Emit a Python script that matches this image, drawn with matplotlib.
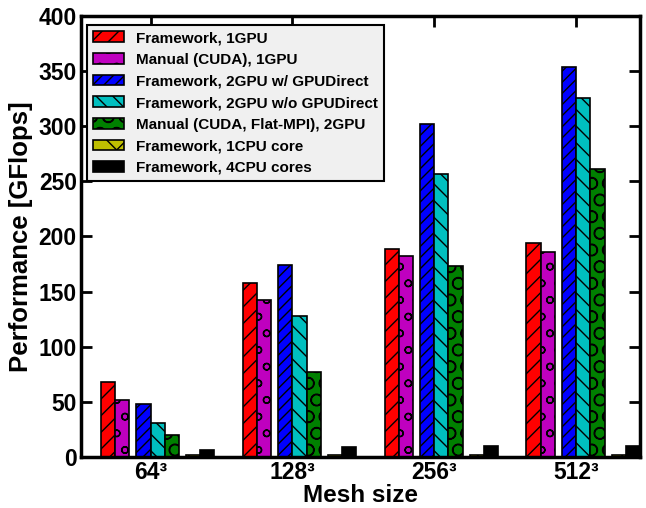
import numpy as np
import matplotlib
matplotlib.use('Agg')
import matplotlib.pyplot as plt

plt.rcParams['font.family'] = ['Liberation Sans', 'DejaVu Sans']
plt.rcParams['font.weight'] = 'bold'
plt.rcParams['hatch.linewidth'] = 1.0

sizes = ['64³', '128³', '256³', '512³']
labels = ['Framework, 1GPU',
          'Manual (CUDA), 1GPU',
          'Framework, 2GPU w/ GPUDirect',
          'Framework, 2GPU w/o GPUDirect',
          'Manual (CUDA, Flat-MPI), 2GPU',
          'Framework, 1CPU core',
          'Framework, 4CPU cores']

fw_1gpu = [68, 158, 189, 194]
man_1gpu = [52, 142, 182, 186]
fw_2gpu_direct = [48, 174, 302, 354]
fw_2gpu_nodirect = [31, 128, 257, 326]
man_2gpu_mpi = [20, 77, 173, 261]
fw_1cpu = [2, 2, 2, 2]
fw_4cpu = [6, 9, 10, 10]

series = [fw_1gpu, man_1gpu, fw_2gpu_direct, fw_2gpu_nodirect,
          man_2gpu_mpi, fw_1cpu, fw_4cpu]
colors = ['#ff0000', '#bf00bf', '#0000ff', '#00bfbf', '#008000', '#bfbf00', '#000000']
hatches = ['//', 'o', '///', '\\\\', 'O', 'x', '']
# left edge of each bar relative to the group tick
offsets = [-0.35, -0.25, -0.1, 0.0, 0.1, 0.25, 0.35]
width = 0.1

fig = plt.figure(figsize=(6.46, 5.08), dpi=100)
ax = fig.add_axes([0.1254, 0.1004, 0.8653, 0.8681])

x = np.arange(len(sizes))
for vals, c, h, off, lab in zip(series, colors, hatches, offsets, labels):
    ax.bar(x + off, vals, width, align='edge', color=c, edgecolor='black',
           linewidth=1.2, hatch=h, label=lab, zorder=2)

ax.set_xlim(-0.49, 3.45)
ax.set_ylim(0, 400)
ax.set_xticks(x)
ax.set_xticklabels(sizes)
ax.set_yticks(np.arange(0, 401, 50))

ax.tick_params(axis='both', which='major', direction='in', length=8, width=2,
               labelsize=16.5, top=True, right=True)
ax.tick_params(axis='y', pad=3)
ax.tick_params(axis='x', pad=3)
for lab in ax.get_xticklabels() + ax.get_yticklabels():
    lab.set_fontweight('bold')
for sp in ax.spines.values():
    sp.set_linewidth(2.5)

ax.set_xlabel('Mesh size', fontsize=17.5, fontweight='bold', labelpad=0)
ax.set_ylabel('Performance [GFlops]', fontsize=18.5, fontweight='bold', labelpad=4)

leg = ax.legend(loc='upper left', bbox_to_anchor=(0.0107, 0.9796), borderaxespad=0,
                fontsize=11, fancybox=False, framealpha=1, edgecolor='black',
                facecolor='#f0f0f0', labelspacing=0.5)
leg.get_frame().set_linewidth(1.5)

fig.savefig('out.png', dpi=100)
